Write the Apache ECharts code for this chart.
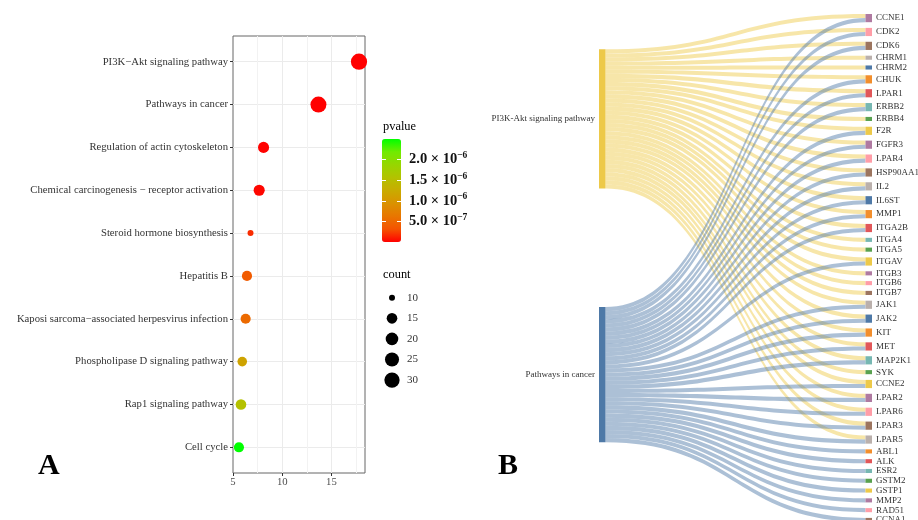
<!DOCTYPE html>
<html>
<head>
<meta charset="utf-8">
<script src="https://cdn.jsdelivr.net/npm/echarts@6/dist/echarts.min.js"></script>
<style>
  html, body { margin: 0; padding: 0; background: #fff; }
  #chart { width: 918px; height: 520px; }
</style>
</head>
<body>
<div id="chart"></div>
<script>
// Panel A: KEGG enrichment (top to bottom)
var pathways = [
  'PI3K-Akt signaling pathway',
  'Pathways in cancer',
  'Regulation of actin cytoskeleton',
  'Chemical carcinogenesis - receptor activation',
  'Steroid hormone biosynthesis',
  'Hepatitis B',
  'Kaposi sarcoma-associated herpesvirus infection',
  'Phospholipase D signaling pathway',
  'Rap1 signaling pathway',
  'Cell cycle'
];
var pvalues = [1.6e-18, 2.1e-14, 7.9e-9, 2.2e-8, 1.66e-7, 3.8e-7, 5.2e-7, 1.15e-6, 1.55e-6, 2.5e-6];
var counts = [34, 33, 16, 16, 10, 14, 14, 13, 15, 14];
var xTicks = [5, 10, 15];
var pvalueTicks = [5e-7, 1e-6, 1.5e-6, 2e-6];
var countTicks = [10, 15, 20, 25, 30];

// Panel B: genes of the two top pathways, in drawing order
var pi3kGenes = ['CCNE1', 'CDK2', 'CDK6', 'CHRM1', 'CHRM2', 'CHUK', 'LPAR1', 'ERBB2', 'ERBB4', 'F2R',
  'FGFR3', 'LPAR4', 'HSP90AA1', 'IL2', 'IL6ST', 'MMP1', 'ITGA2B', 'ITGA4', 'ITGA5', 'ITGAV',
  'ITGB3', 'ITGB6', 'ITGB7', 'JAK1', 'JAK2', 'KIT', 'MET', 'MAP2K1', 'SYK', 'CCNE2',
  'LPAR2', 'LPAR6', 'LPAR3', 'LPAR5'];
var cancerOnlyGenes = ['ABL1', 'ALK', 'ESR2', 'GSTM2', 'GSTP1', 'MMP2', 'RAD51', 'CCNA1'];
var cancerGenes = ['CCNE1', 'CDK2', 'CDK6', 'CHUK', 'LPAR1', 'ERBB2', 'F2R', 'FGFR3', 'LPAR4', 'HSP90AA1',
  'IL2', 'IL6ST', 'MMP1', 'ITGA2B', 'ITGAV', 'JAK1', 'JAK2', 'KIT', 'MET', 'MAP2K1',
  'CCNE2', 'LPAR2', 'LPAR6', 'LPAR3', 'LPAR5'].concat(cancerOnlyGenes);

var palette = ['#4e79a7', '#f28e2c', '#e15759', '#76b7b2', '#59a14f',
  '#edc949', '#af7aa1', '#ff9da7', '#9c755f', '#bab0ac'];
// red -> green, sampled in Lab like ggplot's gradient
var pGradient = ['#ff0000', '#f45300', '#e87600', '#da9200', '#c9ab00',
  '#b3c200', '#97d600', '#70eb00', '#00ff00'];
var serif = '"Liberation Serif", "DejaVu Serif", serif';

// ggplot-like area scale for the bubbles
function bubbleSize(c) {
  return 6 + 9.3 * Math.sqrt(Math.max(0, c - 10) / 20);
}

var logP = pvalues.map(function (p) { return -Math.log10(p); });
var xMaxData = Math.max.apply(null, logP), xMinData = Math.min.apply(null, logP);
var xMax = xMaxData + 0.05 * (xMaxData - xMinData);
var pMin = Math.min.apply(null, pvalues), pMax = Math.max.apply(null, pvalues);

var dotData = pathways.map(function (name, i) {
  return [logP[i], i, pvalues[i], counts[i]];
});
var rowIdx = pathways.map(function (n, i) { return i; });

function sciLabel(v) {
  var parts = Number(v).toExponential(1).split('e');
  return '{m|' + parts[0] + ' \u00d7 10}{e|' + parts[1].replace('-', '\u2212') + '}';
}

// sankey nodes and links
var P1 = pathways[0], P2 = pathways[1];
var nodeNames = [P1].concat(pi3kGenes, [P2], cancerOnlyGenes);
// the two pathway nodes are placed where the reference shows them
var nodePos = {};
nodePos[P1] = 0.0695;
nodePos[P2] = 0.577;
var nodes = nodeNames.map(function (name, i) {
  var n = { name: name, itemStyle: { color: palette[(i + 5) % 10] } };
  if (nodePos[name] != null) {
    n.localX = 0;
    n.localY = nodePos[name];
    n.label = { position: 'left' };
  }
  return n;
});
var links = pi3kGenes.map(function (g) { return { source: P1, target: g, value: 1 }; })
  .concat(cancerGenes.map(function (g) { return { source: P2, target: g, value: 1 }; }));

var chart = echarts.init(document.getElementById('chart'), null, { renderer: 'canvas' });

var option = {
  animation: false,
  textStyle: { fontFamily: serif },
  grid: [
    { left: 233, top: 36, width: 132, height: 437, show: true, borderColor: '#666', borderWidth: 1,
      backgroundColor: '#fff', outerBoundsMode: 'none' },
    { left: 382, top: 287.4, width: 20, height: 103, outerBoundsMode: 'none' },
    { left: 382, top: 139, width: 19, height: 103, outerBoundsMode: 'none' }
  ],
  xAxis: [
    {
      gridIndex: 0, type: 'value', min: 5, max: xMax, interval: 5, position: 'bottom',
      axisLine: { show: false, onZero: false },
      axisTick: { show: true, customValues: xTicks, length: 3, lineStyle: { color: '#333' } },
      axisLabel: { customValues: xTicks, margin: 4, fontSize: 10.7, color: '#4d4d4d', fontFamily: serif },
      splitLine: { show: true, showMinLine: false, lineStyle: { color: '#ebebeb', width: 1 } },
      minorTick: { show: false, splitNumber: 2 },
      minorSplitLine: { show: true, lineStyle: { color: '#f2f2f2', width: 1 } }
    },
    { gridIndex: 1, type: 'value', min: -1, max: 1, show: false },
    { gridIndex: 2, type: 'value', min: 0, max: 1, show: false }
  ],
  yAxis: [
    {
      gridIndex: 0, type: 'value', inverse: true, min: -0.6, max: pathways.length - 0.4, position: 'left',
      axisLine: { show: false, onZero: false },
      axisTick: { show: true, customValues: rowIdx, length: 3, lineStyle: { color: '#333' } },
      axisLabel: {
        customValues: rowIdx, margin: 5, fontSize: 10.7, color: '#333', fontFamily: serif,
        formatter: function (v) { return pathways[Math.round(v)].replace(/-/g, '\u2212'); }
      },
      splitLine: { show: true, lineStyle: { color: '#ebebeb', width: 1 } }
    },
    {
      gridIndex: 1, type: 'category', inverse: true, position: 'right',
      data: countTicks.map(String),
      axisLine: { show: false, onZero: false }, axisTick: { show: false }, splitLine: { show: false },
      axisLabel: { margin: 5, fontSize: 11, color: '#333', fontFamily: serif }
    },
    {
      gridIndex: 2, type: 'value', min: 0, max: pMax, position: 'right', z: 10,
      axisLine: { show: false, onZero: false },
      splitLine: { show: false },
      axisTick: { show: true, inside: true, length: 4, customValues: pvalueTicks, lineStyle: { color: '#fff', width: 1 } },
      axisLabel: {
        customValues: pvalueTicks, margin: 8, formatter: sciLabel,
        rich: {
          m: { fontSize: 14.5, fontWeight: 'bold', color: '#111', fontFamily: serif, lineHeight: 18 },
          e: { fontSize: 9.5, fontWeight: 'bold', color: '#111', fontFamily: serif, verticalAlign: 'top', lineHeight: 11 }
        }
      }
    },
    {
      gridIndex: 2, type: 'value', min: 0, max: pMax, position: 'left', z: 10,
      axisLine: { show: false, onZero: false }, splitLine: { show: false }, axisLabel: { show: false },
      axisTick: { show: true, inside: true, length: 4, customValues: pvalueTicks, lineStyle: { color: '#fff', width: 1 } }
    }
  ],
  visualMap: [{
    type: 'continuous', seriesIndex: 0, dimension: 2,
    min: pMin, max: pMax,
    left: 382, top: 139, itemWidth: 19, itemHeight: 103, padding: 0,
    calculable: false, hoverLink: false, text: null,
    inRange: { color: pGradient }
  }],
  graphic: [
    { type: 'text', x: 383, y: 127, style: { text: 'pvalue', font: '12.4px ' + serif, fill: '#000', verticalAlign: 'middle' } },
    { type: 'text', x: 383, y: 275, style: { text: 'count', font: '12.4px ' + serif, fill: '#000', verticalAlign: 'middle' } },
    { type: 'text', x: 38, y: 466, style: { text: 'A', font: 'bold 30px ' + serif, fill: '#000', verticalAlign: 'middle' } },
    { type: 'text', x: 498, y: 466, style: { text: 'B', font: 'bold 30px ' + serif, fill: '#000', verticalAlign: 'middle' } }
  ],
  series: [
    {
      type: 'scatter', xAxisIndex: 0, yAxisIndex: 0,
      data: dotData,
      symbolSize: function (d) { return bubbleSize(d[3]); },
      itemStyle: { opacity: 1 },
      clip: false
    },
    {
      type: 'scatter', xAxisIndex: 1, yAxisIndex: 1,
      data: countTicks.map(function (c, i) { return [0, i, c]; }),
      symbolSize: function (d) { return bubbleSize(d[2]); },
      itemStyle: { color: '#000', opacity: 1 }
    },
    {
      type: 'sankey',
      left: 599, top: 14, width: 273, height: 508,
      nodeWidth: 6.5, nodeGap: 5.7,
      layoutIterations: 0,
      draggable: false,
      emphasis: { disabled: true },
      data: nodes,
      links: links,
      itemStyle: { borderWidth: 0 },
      lineStyle: { color: 'source', opacity: 0.47, curveness: 0.5 },
      label: { show: true, position: 'right', distance: 4, fontSize: 9, color: '#333', fontFamily: serif }
    }
  ]
};

chart.setOption(option);
</script>
</body>
</html>
